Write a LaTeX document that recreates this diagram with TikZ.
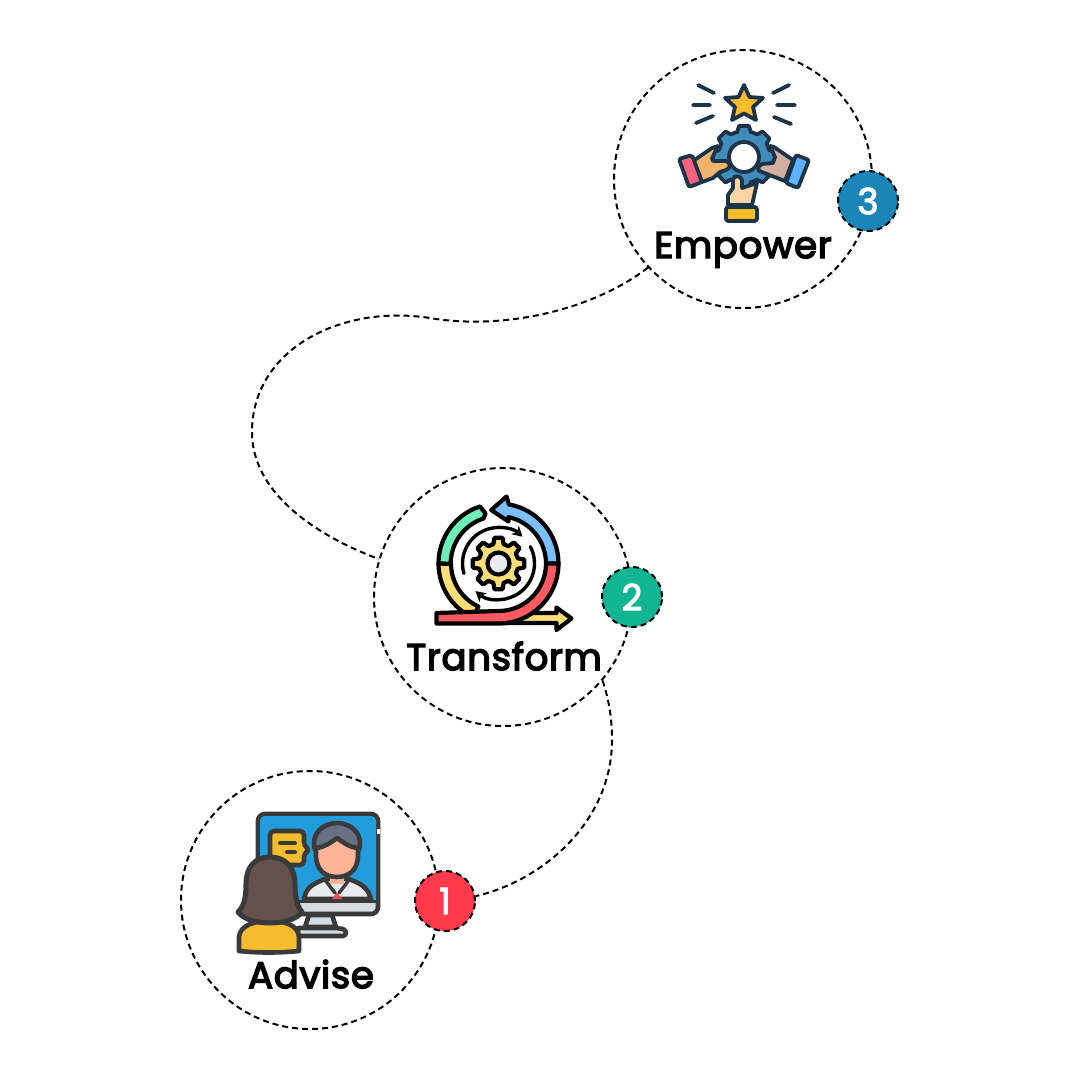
\documentclass[tikz,border=0pt]{standalone}
\usepackage{fontspec}
\setmainfont{Poppins}
\newfontfamily\labfont[FakeBold=4,LetterSpace=2]{Poppins}
\newfontfamily\numfont[FakeBold=3]{Poppins}
\usetikzlibrary{arrows.meta}
\definecolor{navy}{HTML}{1D3347}
\definecolor{gold}{HTML}{FBBC2C}
\definecolor{gearblue}{HTML}{3F8CBD}
\definecolor{pinkc}{HTML}{F9627F}
\definecolor{bluec}{HTML}{5CB3FF}
\definecolor{handa}{HTML}{F0B36C}
\definecolor{handb}{HTML}{D3B1A2}
\definecolor{handc}{HTML}{FDD4A4}
\definecolor{ringblue}{HTML}{7ABFFF}
\definecolor{ringgreen}{HTML}{6FF0B8}
\definecolor{ringyellow}{HTML}{FFDD78}
\definecolor{ringred}{HTML}{FF5A64}
\definecolor{hubgrey}{HTML}{E8EAEE}
\definecolor{dk}{HTML}{3A3A3A}
\definecolor{screen}{HTML}{229CDB}
\definecolor{standg}{HTML}{D5DDE1}
\definecolor{face}{HTML}{FFB498}
\definecolor{hairm}{HTML}{667185}
\definecolor{hairw}{HTML}{65524D}
\definecolor{amber}{HTML}{F5BD2E}
\definecolor{badgea}{HTML}{FF3A4C}
\definecolor{badgeb}{HTML}{11B592}
\definecolor{badgec}{HTML}{1A86B8}
\tikzset{
  dashline/.style={draw=black,line width=2pt,dash pattern=on 6pt off 4pt},
  bigcircle/.style={circle,dashline,minimum size=258pt,inner sep=0pt},
  badge/.style={circle,dashline,minimum size=60pt,inner sep=0pt,text=white,font=\numfont\fontsize{36}{40}\selectfont},
  lab/.style={inner sep=0pt,anchor=base,text=black,font=\labfont\fontsize{37}{42}\selectfont},
  nv/.style={draw=navy,line width=3.8pt,line join=round,line cap=round},
  bk/.style={draw=black,line width=4.2pt,line join=round,line cap=round},
  dg/.style={draw=dk,line width=4.6pt,line join=round,line cap=round},
}
\newcommand{\gearpath}[4]{% outer, body, half-tooth angle, teeth step
  (#3:#1pt) \foreach \a in {0,#4,...,359}{ -- (\a+#3:#1pt) -- (\a+#3+6:#2pt) arc (\a+#3+6:\a+#4-#3-6:#2pt) -- (\a+#4-#3:#1pt) -- (\a+#4+#3:#1pt) } -- cycle
}
\begin{document}
\begin{tikzpicture}[x=1pt,y=-1pt]
\useasboundingbox (0,0) rectangle (1080,1080);
\fill[white] (0,0) rectangle (1080,1080);

% circles
\node[bigcircle] (adv) at (310,900) {};
\node[bigcircle] (tra) at (503,597) {};
\node[bigcircle] (emp) at (743,179) {};

% connectors
\coordinate (w1) at (430,318);
\coordinate (w2) at (252,432);
\coordinate (w3) at (612,740);
\draw[dashline] (emp.223) .. controls (590,312) and (500,330) .. (w1)
  .. controls (340,304) and (252,350) .. (w2)
  .. controls (252,495) and (320,537) .. (tra.163.5);

% badges
\node[badge,fill=badgea] (b1) at (445,901) {1};
\node[badge,fill=badgeb] (b2) at (632,597) {2};
\node[badge,fill=badgec] (b3) at (868,201) {3};

\draw[dashline] (tra.-40.8) .. controls (610,703) and (612,722) .. (w3)
  .. controls (612,820) and (545,880) .. (b1.9.5);

% labels
\node[lab] (l3) at (743,258) {Empower};
\node[lab] (l2) at (504,670) {Transform};
\node[lab] (l1) at (311,988) {Advise};

% ---------- Empower icon
\draw[nv,fill=gold] (744,85) -- (749.5,97) -- (763,98) -- (753,107) -- (756,120) -- (744,113.5) -- (732,120) -- (735,107) -- (725,98) -- (738.5,97) -- cycle;
\draw[nv] (698,85) -- (714,93) (693,105) -- (710,105) (696,123) -- (713,116)
          (773,93) -- (789,85) (777,105) -- (795,105) (774,117) -- (791,124);
\begin{scope}[shift={(744,157)}]
\draw[nv,fill=gearblue] \gearpath{31.5}{26}{9}{45};
\draw[nv,fill=white] (0,0) circle (15pt);
\end{scope}
% left hand
\draw[nv,fill=handa] (693,161) -- (712,148) -- (718,146) -- (712,158) -- (713,161) -- (726,161) .. controls (731,163) and (731,168) .. (726,170) -- (720,172) -- (713,178) -- (702,182) -- cycle;
\draw[nv,fill=pinkc,rounded corners=2pt] (679,159) -- (692,155) -- (702,182) -- (689,187) -- cycle;
% right hand
\draw[nv,fill=handb] (793,160) -- (774,147) -- (770,146) -- (775,157) -- (773,163) -- (762,164) .. controls (757,166) and (757,172) .. (762,172) -- (772,176) -- (785,181) -- cycle;
\draw[nv,fill=bluec,rounded corners=2pt] (796,155) -- (809,160) -- (798,188) -- (786,183) -- cycle;
% bottom hand
\draw[nv,fill=handc] (733,180) .. controls (733,175) and (741,175) .. (742,180) -- (742,188) -- (757,183) -- (752,205) -- (728,205) -- (728,195) -- (733,188) -- cycle;
\draw[nv,fill=gold,rounded corners=2.5pt] (726,207) rectangle (757,221);

% ---------- Transform icon
\begin{scope}[shift={(498.5,563.5)},y=1pt]
\def\Ro{60}\def\Ri{47.5}
\draw[bk,fill=ringyellow] (180:\Ro pt) arc (180:245:\Ro pt) -- (245:\Ri pt) arc (245:180:\Ri pt) -- cycle;
\draw[bk,fill=ringgreen] (180:\Ro pt) arc (180:108:\Ro pt) -- (-13,50) -- (-15,45) arc (108:180:\Ri pt) -- cycle;
\draw[bk,fill=ringblue] (\Ro pt,0) arc (0:80:\Ro pt) -- (8,67) -- (-7.3,53.5) -- (10,42) -- (78:\Ri pt) arc (78:0:\Ri pt) -- cycle;
\draw[bk,fill=ringyellow] (0,-49.5) -- (58,-49.5) -- (58,-44) -- (73,-55) -- (58,-66.5) -- (58,-59.5) -- (0,-59.5) -- cycle;
\draw[bk,fill=ringred] (\Ro pt,0) arc (0:-90:\Ro pt) -- (-62,-\Ro) -- (-62,-49.5) -- (0,-\Ri) arc (-90:0:\Ri pt) -- cycle;
\draw[black,line width=3.4pt,line cap=round,-{Stealth[length=10pt,width=11pt,inset=2.5pt]}] (196:36pt) arc (196:48:36pt);
\draw[black,line width=3.4pt,line cap=round,-{Stealth[length=10pt,width=11pt,inset=2.5pt]}] (28:36pt) arc (28:-130:36pt);
\draw[bk,fill=ringyellow] \gearpath{26}{20}{9}{45};
\draw[bk,fill=hubgrey] (0,0) circle (11pt);
\end{scope}

% ---------- Advise icon
\draw[dg,fill=standg] (309,915) -- (332,915) -- (336,927) -- (305,927) -- cycle;
\draw[dg,fill=standg] (298,928) -- (336,928) -- (343,929) .. controls (347,931) and (347,935) .. (343,936) -- (298,936) -- cycle;
\draw[dg,fill=standg,rounded corners=7pt] (258,814) rectangle (378,914);
\fill[screen,rounded corners=5pt] (260,816) -- (376,816) -- (376,902) -- (260,902) -- cycle;
\draw[dk,line width=3pt] (258,901) -- (378,901);
\draw[white,line width=3pt] (378,829) -- (378,834);
% man
\draw[dg,fill=hubgrey] (304,899) .. controls (306,888) and (312,884) .. (325,879) -- (349,879) .. controls (362,884) and (368,888) .. (371,899) -- cycle;
\fill[face] (330,875) rectangle (344,884);
\draw[dk,line width=3.4pt,line cap=round] (325,880) -- (335,893) (349,880) -- (339,893);
\fill[ringred!90!black] (332,899) -- (337,892) -- (342,899) -- cycle;
\draw[dg,fill=hairm] (315,850) .. controls (310,832) and (325,823) .. (337,823) .. controls (349,823) and (364,832) .. (359,850) -- cycle;
\draw[dg,fill=face] (316,848) -- (316,855) .. controls (316,870) and (325,877) .. (337,877) .. controls (349,877) and (358,870) .. (358,855) -- (358,848) .. controls (349,847) and (344,843) .. (337,838) .. controls (330,843) and (325,847) .. (316,848) -- cycle;
% bubble
\draw[dg,fill=amber,rounded corners=4pt] (270,831) -- (304,831) -- (304,846) -- (310,850) -- (304,853) -- (304,865) -- (270,865) -- cycle;
\draw[dk,line width=4pt,line cap=round] (280,843) -- (295,843) (287,852) -- (295,852);
% woman
\draw[dg,fill=amber] (239,951) -- (239,937) .. controls (240,925) and (255,921) .. (269,921) .. controls (285,921) and (298,925) .. (299,937) -- (299,951) .. controls (280,953) and (258,953) .. (239,951) -- cycle;
\draw[dg,line width=5pt,fill=hairw] (270,857) .. controls (254,857) and (246,868) .. (246,884) .. controls (246,898) and (244,906) .. (238,912) .. controls (244,920) and (258,923) .. (270,923) .. controls (282,923) and (296,920) .. (302,912) .. controls (297,906) and (295,898) .. (295,884) .. controls (295,868) and (286,857) .. (270,857) -- cycle;
\end{tikzpicture}
\end{document}
